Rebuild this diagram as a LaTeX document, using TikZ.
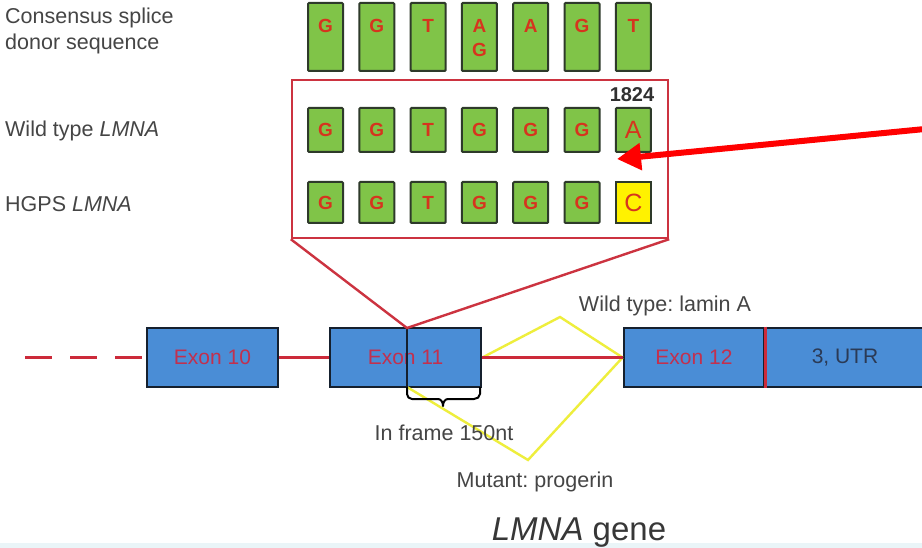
\documentclass[tikz,border=0pt]{standalone}
\usepackage{fontspec}
\setmainfont{Liberation Sans}
\usetikzlibrary{arrows.meta}
\definecolor{exonblue}{HTML}{4A8DD6}
\definecolor{exonedge}{HTML}{15202E}
\definecolor{nucgreen}{HTML}{80C448}
\definecolor{nucedge}{HTML}{2E3A2A}
\definecolor{letterred}{HTML}{D6341E}
\definecolor{boxred}{HTML}{CC3340}
\definecolor{intronred}{HTML}{CC2A3A}
\definecolor{exonlabel}{HTML}{C2304E}
\definecolor{utrlabel}{HTML}{2B3A55}
\definecolor{labelgray}{HTML}{454545}
\definecolor{yel}{HTML}{EEEE3C}
\definecolor{stripcol}{HTML}{EAF5F8}
\frenchspacing
\begin{document}
\begin{tikzpicture}[x=1pt,y=-1pt,
  nuc/.style={draw=nucedge, fill=nucgreen, line width=2pt, minimum width=35pt, inner sep=0pt, rounded corners=1pt},
  letter/.style={text=letterred, font=\fontsize{19}{19}\selectfont\bfseries, inner sep=0pt},
  bigletter/.style={text=letterred, font=\fontsize{25}{25}\selectfont, inner sep=0pt},
  exon/.style={draw=exonedge, line width=2.8pt, fill=exonblue, inner sep=0pt, minimum height=59pt, text=exonlabel, font=\fontsize{21}{21}\selectfont},
  intron/.style={draw=intronred, line width=2.6pt},
  yline/.style={draw=yel, line width=2.4pt},
  glabel/.style={text=labelgray, font=\fontsize{21.5}{26}\selectfont, inner sep=0pt}
]
\useasboundingbox (0,0) rectangle (922,548);
\fill[white] (0,0) rectangle (922,548);
\fill[stripcol] (0,543) rectangle (922,548);

% left labels
\node[glabel, anchor=base west] (cons) at (5,24) {Consensus splice};
\node[glabel, anchor=base west] (cons2) at (5,50) {donor sequence};
\node[glabel, anchor=base west] (wt) at (5,137) {Wild type \textit{LMNA}};
\node[glabel, anchor=base west] (hgps) at (5,212) {HGPS \textit{LMNA}};

% consensus row
\foreach \L [count=\i] in {G,G,T,A,A,G,T}{
  \node[nuc, minimum height=68pt] (c\i) at ({325.5+51.3*(\i-1)},37) {};
  \node[letter] (cl\i) at ({325.5+51.3*(\i-1)},26) {\L};
}
\node[letter] (cl4b) at (c4 |- 0,50) {G};

% red zoom box
\node[draw=boxred, line width=2.4pt, minimum width=376pt, minimum height=158pt, inner sep=0pt] (zoombox) at (480,159) {};

% wild type row
\foreach \L [count=\i] in {G,G,T,G,G,G}{
  \node[nuc, minimum height=44pt] (w\i) at ({325.5+51.3*(\i-1)},130) {};
  \node[letter] (wl\i) at (w\i) {\L};
}
\node[nuc, minimum height=44pt] (w7) at ({325.5+51.3*6},130) {};
\node[bigletter] (wl7) at (w7) {A};
\node[text=labelgray!70!black, font=\fontsize{20}{20}\selectfont\bfseries, anchor=base, inner sep=0pt] (pos) at (632,102) {1824};

% HGPS row
\foreach \L [count=\i] in {G,G,T,G,G,G}{
  \node[nuc, minimum height=41pt] (h\i) at ({325.5+51.3*(\i-1)},202.5) {};
  \node[letter] (hl\i) at (h\i) {\L};
}
\node[nuc, fill=yellow, rounded corners=0pt, minimum height=41pt] (h7) at ({325.5+51.3*6},202.5) {};
\node[bigletter] (hl7) at (h7) {C};

% arrow
\coordinate (arrowstart) at (925,129);
\coordinate (arrowtip) at (617,159);
\draw[red, line width=6pt, -{Triangle[length=24pt,width=26pt]}] (arrowstart) -- (arrowtip);

% gene line
\coordinate (dashstart) at (25,357.5);
\coordinate (split) at (407,328);
\coordinate (splitbot) at (407,387);
\coordinate (wtpeak) at (560,317);
\coordinate (mutpeak) at (528,460);

\node[exon, minimum width=131pt] (exon10) at (212.5,357.5) {Exon 10};
\node[exon, minimum width=151pt] (exon11) at (405.5,357.5) {Exon 11};
\node[exon, minimum width=140pt] (exon12) at (694,357.5) {Exon 12};
\node[exon, minimum width=162pt, text=utrlabel] (utr) at (845,357.5) {3, UTR};
\draw[intronred, line width=2.4pt] (exon12.north east) -- (exon12.south east);

\draw[intron, dash pattern=on 27pt off 18pt] (dashstart) -- (exon10.west);
\draw[intron] (exon10.east) -- (exon11.west);
\draw[yline] (exon11.east) -- (wtpeak) -- (exon12.west);
\draw[yline] (splitbot) -- (mutpeak) -- (exon12.west);
\draw[intron] (exon11.east) -- (exon12.west);

% split line in exon 11
\draw[exonedge, line width=2.4pt] (split) -- (splitbot);
\draw[boxred, line width=2.4pt] (zoombox.south west) -- (split) -- (zoombox.south east);

% brace
\draw[black, line width=2pt, line join=round]
  (splitbot) -- (407,394) to[out=-90,in=180] (412,399) -- (438,399)
  to[out=0,in=90] (443,406) to[out=90,in=180] (448,399) -- (474,399)
  to[out=0,in=-90] (480,394) -- (480,387);

% labels
\node[glabel, anchor=base] (wtlab) at (665,312) {Wild type: lamin A};
\node[glabel, anchor=base] (inframe) at (444,440) {In frame 150nt};
\node[glabel, anchor=base] (mutlab) at (535,487) {Mutant: progerin};
\node[text=labelgray!80!black, font=\fontsize{33}{33}\selectfont, anchor=base, inner sep=0pt] (gene) at (579,540) {\textit{LMNA} gene};
\end{tikzpicture}
\end{document}
